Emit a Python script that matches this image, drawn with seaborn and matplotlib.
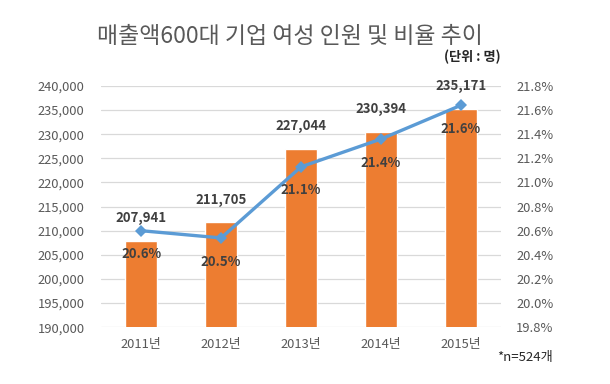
import matplotlib
matplotlib.use("Agg")
import matplotlib.pyplot as plt
import seaborn as sns
import pandas as pd
from matplotlib.ticker import FuncFormatter, MultipleLocator

years = ["2011년", "2012년", "2013년", "2014년", "2015년"]
counts = [207941, 211705, 227044, 230394, 235171]
ratios = [20.60, 20.54, 21.13, 21.36, 21.64]
ratio_labels = ["20.6%", "20.5%", "21.1%", "21.4%", "21.6%"]

sns.set_theme(style="white")
plt.rcParams['font.family'] = ['Noto Sans CJK KR', 'DejaVu Sans']

df = pd.DataFrame({"year": years, "count": counts, "ratio": ratios})

fig = plt.figure(figsize=(6.1, 3.84), dpi=100)
ax = fig.add_axes([0.166, 0.148, 0.655, 0.628])

sns.barplot(data=df, x="year", y="count", color="#ED7D31", saturation=1,
            width=0.4, ax=ax, zorder=2)
ax.set_ylim(190000, 240000)
ax.yaxis.set_major_locator(MultipleLocator(5000))
ax.yaxis.set_major_formatter(FuncFormatter(lambda v, p: f"{int(v):,}"))
ax.grid(axis="y", color="#D9D9D9", linewidth=0.9, zorder=0)
ax.set_axisbelow(True)
for s in ax.spines.values():
    s.set_visible(False)
ax.set_xlabel("")
ax.set_ylabel("")
ax.tick_params(axis="both", length=0, labelsize=9.3, labelcolor="#595959")
ax.tick_params(axis="y", pad=12)
ax.tick_params(axis="x", pad=8)

for i, c in enumerate(counts):
    ax.annotate(f"{c:,}", (i, c), xytext=(0, 16.5), textcoords="offset points",
                ha="center", va="center", fontsize=9.5, fontweight="bold",
                color="#404040", zorder=5)

ax2 = ax.twinx()
sns.lineplot(data=df, x="year", y="ratio", ax=ax2, color="#5B9BD5",
             linewidth=2.4, marker="D", markersize=6, markeredgewidth=0,
             zorder=4)
ax2.set_ylim(19.8, 21.8)
ax2.yaxis.set_major_locator(MultipleLocator(0.2))
ax2.yaxis.set_major_formatter(FuncFormatter(lambda v, p: f"{v:.1f}%"))
for s in ax2.spines.values():
    s.set_visible(False)
ax2.set_ylabel("")
ax2.set_xlabel("")
ax2.tick_params(axis="y", length=0, labelsize=9.3, labelcolor="#595959", pad=11)
ax2.set_xlim(-0.5, 4.5)

for i, (r, lab) in enumerate(zip(ratios, ratio_labels)):
    ax2.annotate(lab, (i, r), xytext=(0, -17), textcoords="offset points",
                 ha="center", va="center", fontsize=9.5, fontweight="bold",
                 color="#404040", zorder=6)

fig.text(0.475, 0.905, "매출액600대 기업 여성 인원 및 비율 추이", ha="center",
         va="center", fontsize=16.5, color="#595959")
fig.text(0.82, 0.851, "(단위 : 명)", ha="right", va="center", fontsize=9.5,
         fontweight="bold", color="#262626")
fig.text(0.815, 0.07, "*n=524개", ha="left", va="center", fontsize=9.5,
         color="#262626")

fig.savefig("out.png", dpi=100)
